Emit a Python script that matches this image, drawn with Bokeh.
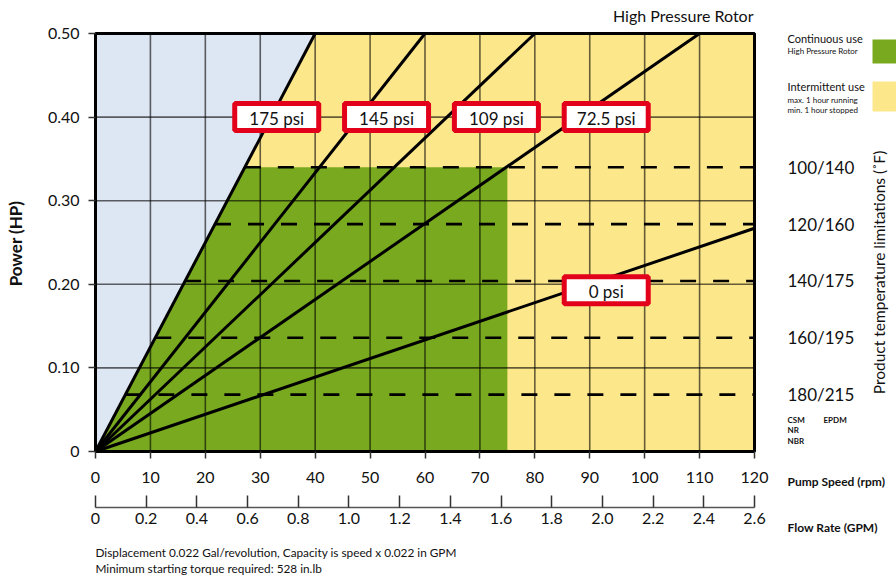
import math
from bokeh.plotting import figure
from bokeh.models import LinearAxis, Range1d, FixedTicker, Label, ColumnDataSource
from bokeh.core.properties import value
from bokeh.embed import file_html
from bokeh.resources import INLINE

# ---------------- data ----------------
pressure_labels = ["175 psi", "145 psi", "109 psi", "72.5 psi", "0 psi"]
line_end_rpm = [40, 60, 80, 110, 120]
line_end_hp = [0.50, 0.50, 0.50, 0.50, 0.267]
label_rpm = [33, 53, 73, 93, 93]
label_hp = [0.40, 0.40, 0.40, 0.40, 0.193]

continuous_max_rpm = 75
continuous_max_hp = 0.34

temp_limit_hp = [0.34, 0.272, 0.204, 0.136, 0.068]
temp_limit_labels = ["100/140", "120/160", "140/175", "160/195", "180/215"]

rpm_ticks = [0, 10, 20, 30, 40, 50, 60, 70, 80, 90, 100, 110, 120]
hp_ticks = [0, 0.1, 0.2, 0.3, 0.4, 0.5]
hp_tick_labels = ["0", "0.10", "0.20", "0.30", "0.40", "0.50"]
gpm_ticks = [0, 0.2, 0.4, 0.6, 0.8, 1.0, 1.2, 1.4, 1.6, 1.8, 2.0, 2.2, 2.4, 2.6]
gpm_tick_labels = ["0", "0.2", "0.4", "0.6", "0.8", "1.0", "1.2", "1.4", "1.6",
                   "1.8", "2.0", "2.2", "2.4", "2.6"]
max_rpm = 120
max_hp = 0.5
max_gpm = 2.6

# ---------------- layout / styles ----------------
FONT = "Lato"
BLUE = "#dde6f3"
YELLOW = "#fde78b"
GREEN = "#78a91e"
RED = "#e2001a"
INK = "#111111"

W, H = 896, 575
CL, CR, CT, CB = 95, 754, 33, 451          # chart area in canvas pixels
SX = (CR - CL) / max_rpm
SY = (CB - CT) / max_hp


def X(px):
    return (px - CL) / SX


def Y(py):
    return (CB - py) / SY


p = figure(width=W, height=H, output_backend="svg", toolbar_location=None,
           x_axis_type=None, y_axis_type=None,
           x_range=Range1d(X(0), X(W)), y_range=Range1d(Y(H), Y(0)),
           min_border=0)
p.outline_line_color = None
p.background_fill_color = "white"
p.border_fill_color = "white"

# ---------------- regions ----------------
slope = line_end_hp[0] / line_end_rpm[0]     # 175 psi boundary
p.quad(left=[0], right=[max_rpm], bottom=[0], top=[max_hp],
       fill_color=BLUE, line_color=None)
p.patch([0, line_end_rpm[0], max_rpm, max_rpm], [0, max_hp, max_hp, 0],
        fill_color=YELLOW, line_color=None)
p.patch([0, continuous_max_hp / slope, continuous_max_rpm, continuous_max_rpm],
        [0, continuous_max_hp, continuous_max_hp, 0],
        fill_color=GREEN, line_color=None)

# grid lines
p.segment(x0=rpm_ticks, y0=[0] * len(rpm_ticks), x1=rpm_ticks,
          y1=[max_hp] * len(rpm_ticks), line_color="black", line_alpha=0.6,
          line_width=1.6)
p.segment(x0=[0] * len(hp_ticks), y0=hp_ticks, x1=[max_rpm] * len(hp_ticks),
          y1=hp_ticks, line_color="black", line_alpha=0.6, line_width=1.6)

# temperature dashed lines
p.segment(x0=[h / slope for h in temp_limit_hp], y0=temp_limit_hp,
          x1=[max_rpm] * len(temp_limit_hp), y1=temp_limit_hp,
          line_color="black", line_width=2.6, line_dash="16 17")

# pressure lines
p.segment(x0=[0] * len(line_end_rpm), y0=[0] * len(line_end_rpm),
          x1=line_end_rpm, y1=line_end_hp, line_color="black", line_width=3)

# chart border
p.quad(left=[0], right=[max_rpm], bottom=[0], top=[max_hp],
       fill_color=None, line_color="black", line_width=3)

# pressure labels
src = ColumnDataSource(dict(x=label_rpm, y=label_hp, t=pressure_labels))
p.rect(x="x", y="y", width=84, height=27, width_units="screen",
       height_units="screen", source=src, fill_color="white",
       line_color=RED, line_width=5)
p.text(x="x", y="y", text="t", source=src, text_align="center",
       text_baseline="middle", text_font=value(FONT),
       text_font_size="17px", text_color=INK, y_offset=1)


# ---------------- axes ----------------
def style_axis(ax, tick_out, tick_in, standoff, size="16px"):
    ax.major_tick_out = tick_out
    ax.major_tick_in = tick_in
    ax.major_tick_line_color = "#333333"
    ax.major_tick_line_width = 1.5
    ax.minor_tick_line_color = None
    ax.major_label_standoff = standoff
    ax.major_label_text_font = FONT
    ax.major_label_text_font_size = size
    ax.major_label_text_color = INK


xa = LinearAxis(ticker=FixedTicker(ticks=rpm_ticks), fixed_location=0,
                bounds=(0, max_rpm), axis_line_color=None)
style_axis(xa, 7, 0, 13)
p.add_layout(xa, "below")

ya = LinearAxis(ticker=FixedTicker(ticks=hp_ticks), fixed_location=0,
                bounds=(0, max_hp), axis_line_color=None)
ya.major_label_overrides = dict(zip(hp_ticks, hp_tick_labels))
style_axis(ya, 7, 0, 9)
p.add_layout(ya, "left")

p.extra_x_ranges = {"gpm": Range1d(X(0) * max_gpm / max_rpm,
                                   X(W) * max_gpm / max_rpm)}
ga = LinearAxis(x_range_name="gpm", ticker=FixedTicker(ticks=gpm_ticks),
                fixed_location=Y(507), bounds=(0, max_gpm),
                axis_line_color="#555555", axis_line_width=1.6)
ga.major_label_overrides = dict(zip(gpm_ticks, gpm_tick_labels))
style_axis(ga, 0, 12, 5)
p.add_layout(ga, "below")

ra = LinearAxis(ticker=FixedTicker(ticks=temp_limit_hp), fixed_location=max_rpm,
                bounds=(0, max_hp), axis_line_color=None)
ra.major_label_overrides = dict(zip(temp_limit_hp, temp_limit_labels))
style_axis(ra, 0, 0, 33, size="17px")
ra.major_tick_line_color = None
p.add_layout(ra, "right")


# ---------------- text annotations ----------------
def label(text, px, py, size, style="normal", align="left", angle=0.0,
          baseline="middle", color=INK):
    p.add_layout(Label(x=X(px), y=Y(py), text=text, text_font=FONT,
                       text_font_size=size, text_font_style=style,
                       text_align=align, text_baseline=baseline,
                       angle=angle, text_color=color))


label("Power (HP)", 15, 243, "17px", style="bold", align="center",
      angle=math.pi / 2)
label("High Pressure Rotor", 753, 15, "16px", align="right")
label("Product temperature limitations (˚F)", 878, 272, "15.5px",
      align="center", angle=math.pi / 2)
label("Pump Speed (rpm)", 787, 481, "12px", style="bold")
label("Flow Rate (GPM)", 787, 527, "12px", style="bold")
label("CSM", 787, 419, "8px", style="bold")
label("NR", 787, 429.5, "8px", style="bold")
label("NBR", 787, 440, "8px", style="bold")
label("EPDM", 823, 419, "8px", style="bold")
label("Continuous use", 787, 38, "11px")
label("High Pressure Rotor", 787, 50, "8px")
label("Intermittent use", 787, 85.5, "11px")
label("max. 1 hour running", 787, 99, "8px")
label("min. 1 hour stopped", 787, 109, "8px")
label("Displacement 0.022 Gal/revolution, Capacity is speed x 0.022 in GPM",
      95, 552, "11.8px")
label("Minimum starting torque required: 528 in.lb", 95, 568, "11.8px")

# legend swatches
p.quad(left=[X(872), X(872)], right=[X(896), X(896)],
       top=[Y(39), Y(81)], bottom=[Y(63), Y(111)],
       fill_color=[GREEN, YELLOW], line_color=None)

open("out.html", "w").write(file_html(p, INLINE))
